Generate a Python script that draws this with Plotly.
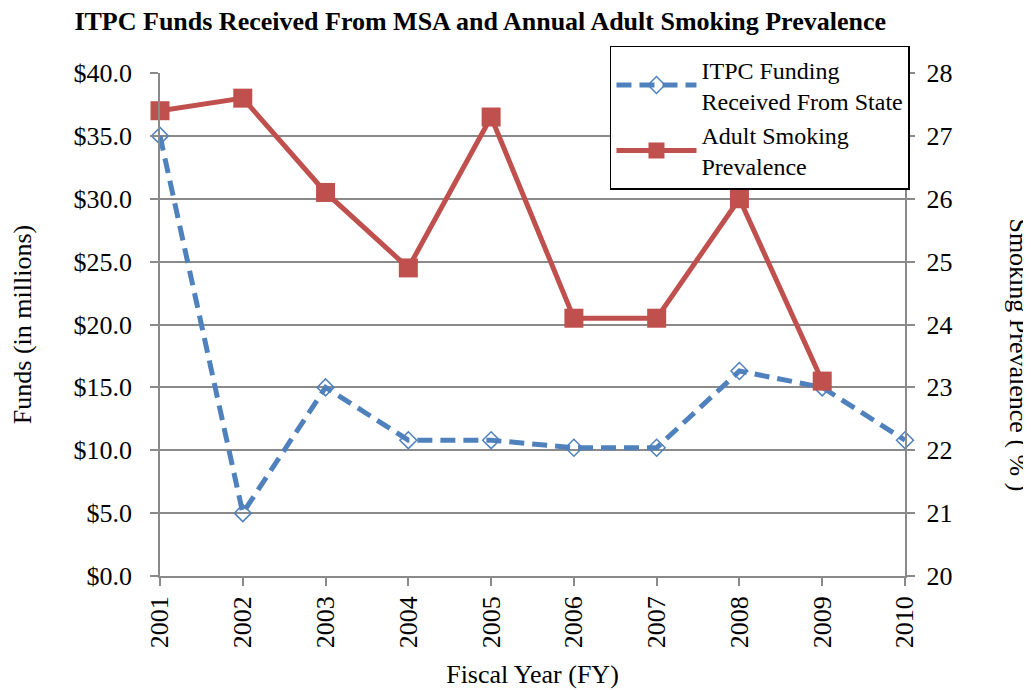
import plotly.graph_objects as go

years = ["2001", "2002", "2003", "2004", "2005", "2006", "2007", "2008", "2009", "2010"]
funding = [35.0, 5.0, 15.0, 10.8, 10.8, 10.2, 10.2, 16.3, 15.0, 10.8]
smoking = [27.4, 27.6, 26.1, 24.9, 27.3, 24.1, 24.1, 26.0, 23.1]

yr_num = [int(y) for y in years]
FONT = "Liberation Serif, Times New Roman, serif"
GRID = "#8a8a8a"
NB = "\u00a0"

fig = go.Figure()
fig.add_trace(go.Scatter(
    x=yr_num, y=funding, name="ITPC Funding<br>Received From State",
    mode="lines+markers",
    line=dict(color="#4F81BD", width=5, dash="15px,8px"),
    marker=dict(symbol="diamond-open", size=13, color="#4F81BD", line=dict(width=1.5)),
    yaxis="y", cliponaxis=False,
))
fig.add_trace(go.Scatter(
    x=yr_num[:len(smoking)], y=smoking, name="Adult Smoking<br>Prevalence",
    mode="lines+markers",
    line=dict(color="#C0504D", width=5),
    marker=dict(symbol="square", size=19, color="#C0504D"),
    yaxis="y2", cliponaxis=False,
))

fig.update_layout(
    width=1031, height=690,
    margin=dict(l=152, r=134, t=65, b=122, autoexpand=False),
    paper_bgcolor="white", plot_bgcolor="white",
    font=dict(family=FONT, size=26, color="black"),
    title=dict(text="<b>ITPC Funds Received From MSA and Annual Adult Smoking Prevalence</b>",
               x=0.458, xanchor="center", y=0.981, yanchor="middle",
               font=dict(family=FONT, size=26)),
    xaxis=dict(
        range=[2001, 2010], tickmode="array", tickvals=yr_num, ticktext=years,
        tickangle=-90, ticks="outside", ticklen=8, tickcolor=GRID, tickwidth=1.5,
        showline=True, linecolor=GRID, linewidth=1.5, showgrid=False, zeroline=False,
        tickfont=dict(size=26),
        title=dict(text="Fiscal Year (FY)", standoff=18, font=dict(size=26)),
    ),
    yaxis=dict(
        range=[0, 40], dtick=5, tickprefix="$", tickformat=".1f", ticksuffix=NB + NB,
        ticks="outside", ticklen=8, tickcolor=GRID, tickwidth=1.5,
        showline=True, linecolor=GRID, linewidth=1.5,
        showgrid=True, gridcolor=GRID, gridwidth=1.5, zeroline=False,
        tickfont=dict(size=26),
        title=dict(text="Funds (in millions)", standoff=40, font=dict(size=26)),
    ),
    yaxis2=dict(
        range=[20, 28], dtick=1, overlaying="y", side="right", tickprefix=NB,
        ticks="outside", ticklen=8, tickcolor=GRID, tickwidth=1.5,
        showline=True, linecolor=GRID, linewidth=1.5,
        showgrid=False, zeroline=False, tickfont=dict(size=26),
    ),
    legend=dict(
        x=0.604, y=1.054, xanchor="left", yanchor="top",
        bordercolor="black", borderwidth=1.5, bgcolor="white",
        font=dict(family=FONT, size=24), tracegroupgap=0, itemwidth=80,
    ),
    showlegend=True,
)

fig.add_annotation(
    text="Smoking Prevalence ( % )", textangle=90,
    xref="paper", yref="paper", x=1.152, y=0.44, xanchor="center", yanchor="middle",
    showarrow=False, font=dict(family=FONT, size=26),
)

fig.write_html("out.html")
